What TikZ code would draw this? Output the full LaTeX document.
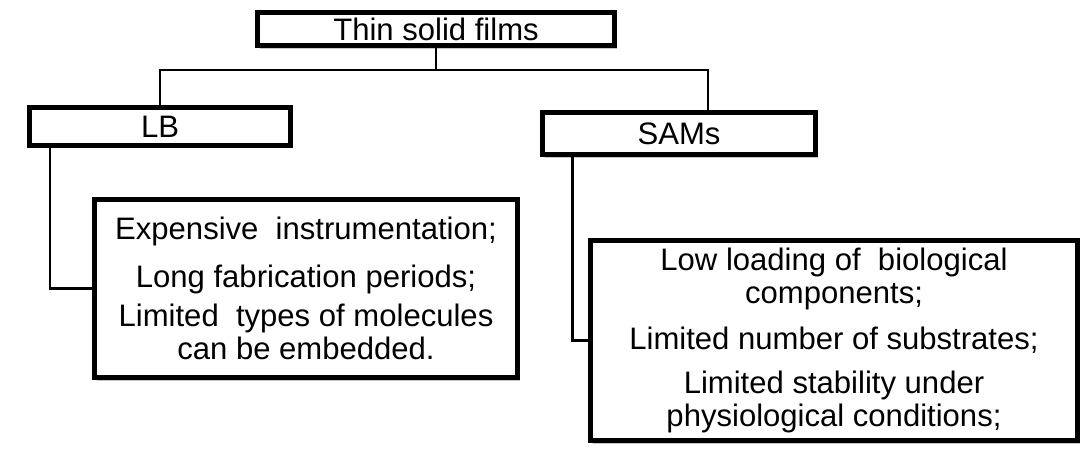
\documentclass[tikz,border=0pt]{standalone}
\usepackage{fontspec}
\setmainfont{Liberation Sans}
\usetikzlibrary{shadows}

\begin{document}
\begin{tikzpicture}[x=0.75pt,y=-0.75pt]
        % Define styles
        \tikzset{
            film/.style={rectangle, draw, line width=3.6pt, fill=white, inner sep=0pt,
                drop shadow={opacity=0.45, shadow xshift=2pt, shadow yshift=-2.5pt},
                font=\fontsize{23.3}{24.5}\selectfont},
            detail/.style={film, align=center},
            link/.style={line width=1.6pt}
        }
        \useasboundingbox (0,0) rectangle (1089,456);

        % Nodes
        \node[film, minimum width=268pt, minimum height=25pt] (films) at (436,29) {Thin solid films};
        \node[film, minimum width=196pt, minimum height=28pt] (lb) at (160,126.5) {LB};
        \node[film, minimum width=205pt, minimum height=31.5pt] (sams) at (679,133.5) {SAMs};
        \node[detail, minimum width=317pt, minimum height=133.5pt] (lb_cons) at (306,288.5)
            {Expensive\ \ instrumentation;\\[11pt]
             Long fabrication periods;\\[5pt]
             Limited\ \ types of molecules\\
             can be embedded.};
        \node[detail, minimum width=365pt, minimum height=150pt] (sams_cons) at (834,340.5)
            {Low loading of\ \ biological\\
             components;\\[10pt]
             Limited number of substrates;\\[9pt]
             Limited stability under\\
             physiological conditions;};
        \coordinate (split) at (436,70);

        % Connectors
        \draw[link] (films.south) -- (split) -| (lb.north);
        \draw[link] (split) -| ([xshift=21.75pt]sams.north);
        \draw[link] ([xshift=17.6pt]lb.south west) |- (lb_cons.west);
        \draw[link] ([xshift=24.4pt]sams.south west) |- (sams_cons.west);
    \end{tikzpicture}
\end{document}
